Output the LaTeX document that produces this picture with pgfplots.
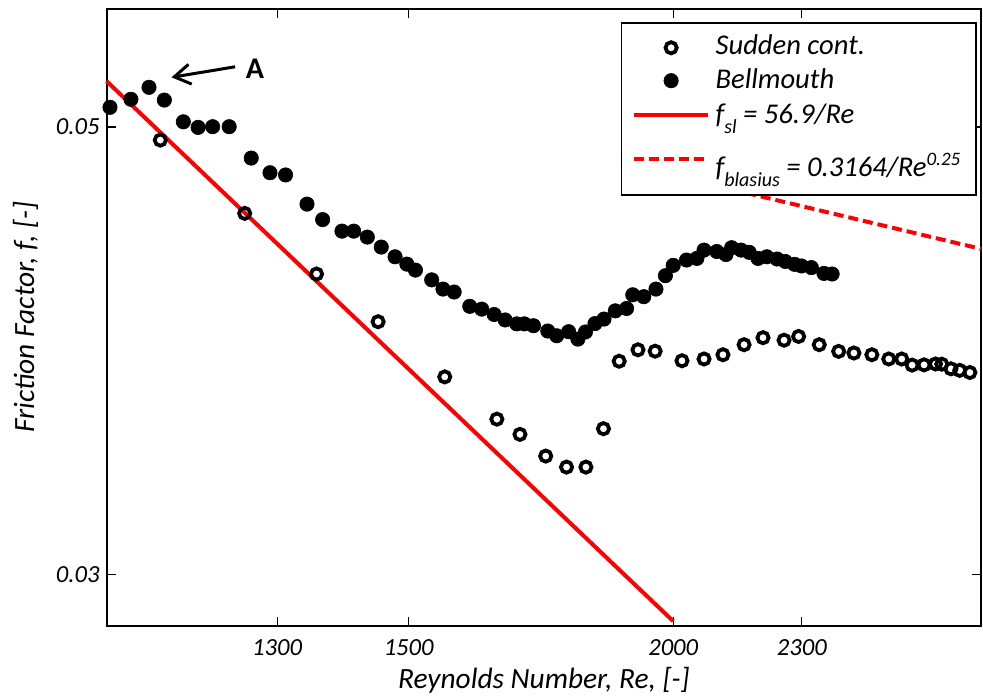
\documentclass[border=0pt]{standalone}
\usepackage{fontspec}
\setmainfont{Carlito}
\usepackage{pgfplots}
\pgfplotsset{compat=1.18}
\usetikzlibrary{arrows.meta}

\newcommand{\sub}[1]{\raisebox{-5bp}{\fontsize{10bp}{12bp}\selectfont #1}}
\newcommand{\super}[1]{\raisebox{5.5bp}{\fontsize{9.5bp}{12bp}\selectfont #1}}

\begin{document}
\begin{tikzpicture}
\begin{axis}[
    width=437.25bp, height=308.25bp, scale only axis,
    xmode=log, ymode=log,
    xmin=1080, xmax=2795,
    ymin=0.02831, ymax=0.05721,
    xtick={1300,1500,2000,2300},
    xticklabels={1300,1500,2000,2300},
    ytick={0.03,0.05},
    yticklabels={0.03,0.05},
    xminorticks=false, yminorticks=false,
    tick align=inside, tick pos=both,
    major tick length=4.5bp,
    every tick/.style={black, line width=0.6bp},
    axis line style={line width=1bp},
    clip=false,
    tick label style={font=\itshape\fontsize{12.3bp}{14bp}\selectfont},
    xticklabel style={yshift=-3.3bp},
    every axis x label/.style={at={(axis description cs:0.5,-0.1014)}, anchor=base,
        font=\itshape\fontsize{14.7bp}{16bp}\selectfont},
    every axis y label/.style={at={(axis description cs:-0.0829,0.5)}, anchor=base, rotate=90,
        font=\itshape\fontsize{14.7bp}{16bp}\selectfont},
    xlabel={Reynolds Number, Re, [-]},
    ylabel={Friction Factor, f, [-]},
    legend image code/.code={\draw[mark repeat=2,mark phase=2]
        plot coordinates {(0bp,0bp) (18.5bp,0bp) (37bp,0bp)};},
    legend cell align=left,
    legend style={at={(rel axis cs:0.9954,0.9789)}, anchor=north east,
        draw=black, line width=0.8bp, fill=white,
        inner xsep=5.25bp, inner ysep=5bp,
        nodes={inner xsep=2.75bp, inner ysep=1bp, text depth=3bp},
        row sep=1bp,
        font=\itshape\fontsize{14.3bp}{16bp}\selectfont},
]
% Sudden contraction (open circles)
\addplot[only marks, mark=o, mark size=2.8bp, black, mark options={line width=1.9bp}] coordinates {
(1145,0.04926) (1255,0.04531) (1357,0.04228) (1451,0.04004) (1560,0.03760)
(1651,0.03583) (1693,0.03521) (1741,0.03435) (1781,0.03392) (1819,0.03392)
(1854,0.03544) (1886,0.03828) (1925,0.03878) (1961,0.03872) (2019,0.03830)
(2068,0.03838) (2111,0.03856) (2160,0.03901) (2205,0.03932) (2256,0.03921)
(2292,0.03938) (2344,0.03901) (2394,0.03871) (2434,0.03864) (2482,0.03856)
(2528,0.03838) (2564,0.03838) (2593,0.03811) (2627,0.03812) (2660,0.03816)
(2678,0.03815) (2705,0.03795) (2731,0.03788) (2761,0.03779)
};
\addlegendentry{\rule{0pt}{9.5bp}Sudden cont.}

% Bellmouth (filled circles)
\addplot[only marks, mark=*, mark size=3.6bp, black, mark options={line width=0.3bp, fill=black}] coordinates {
(1084,0.05114) (1109,0.05161) (1131,0.05232) (1150,0.05156) (1174,0.05030)
(1193,0.04998) (1212,0.05002) (1234,0.05002) (1264,0.04826) (1290,0.04746)
(1312,0.04734) (1343,0.04579) (1366,0.04499) (1395,0.04440) (1413,0.04440)
(1434,0.04410) (1456,0.04360) (1478,0.04312) (1497,0.04276) (1511,0.04247)
(1538,0.04200) (1557,0.04156) (1576,0.04142) (1603,0.04075) (1624,0.04062)
(1646,0.04037) (1666,0.04012) (1687,0.03995) (1701,0.03995) (1718,0.03986)
(1745,0.03962) (1762,0.03941) (1785,0.03959) (1803,0.03926) (1818,0.03958)
(1837,0.03996) (1855,0.04016) (1878,0.04054) (1901,0.04065) (1914,0.04129)
(1937,0.04120) (1963,0.04156) (1983,0.04220) (2000,0.04270) (2029,0.04296)
(2052,0.04304) (2068,0.04345) (2097,0.04338) (2118,0.04323) (2131,0.04357)
(2153,0.04345) (2172,0.04334) (2193,0.04304) (2214,0.04312) (2239,0.04301)
(2259,0.04289) (2282,0.04275) (2299,0.04267) (2324,0.04259) (2356,0.04231)
(2377,0.04228)
};
\addlegendentry{\rule{0pt}{11bp}Bellmouth}

% laminar fit
\addplot[red, line width=2bp, no marks] coordinates {(1080,0.05269) (2000,0.02845)};
\addlegendentry{\rule{0pt}{11.5bp}f\sub{sl} = 56.9/Re}

% Blasius
\addplot[red, line width=2bp, no marks, dash pattern=on 5bp off 2.5bp] coordinates {(2000,0.04731) (2795,0.04351)};
\addlegendentry{\rule{0pt}{20.5bp}f\sub{blasius} = 0.3164/Re\super{0.25}}

\draw[line width=1.5bp, -{Straight Barb[length=8bp,width=10bp]}] (axis cs:1242,0.05356) -- (axis cs:1159,0.05292);
\node[font=\bfseries\fontsize{15bp}{17bp}\selectfont] at (axis cs:1269,0.05345) {A};

\coordinate (sw) at (rel axis cs:0,0);
\coordinate (ne) at (rel axis cs:1,1);
\end{axis}
\pgfresetboundingbox
\path ([shift={(-53.25bp,-36.25bp)}]sw) rectangle ([shift={(1bp,4.5bp)}]ne);
\end{tikzpicture}
\end{document}
